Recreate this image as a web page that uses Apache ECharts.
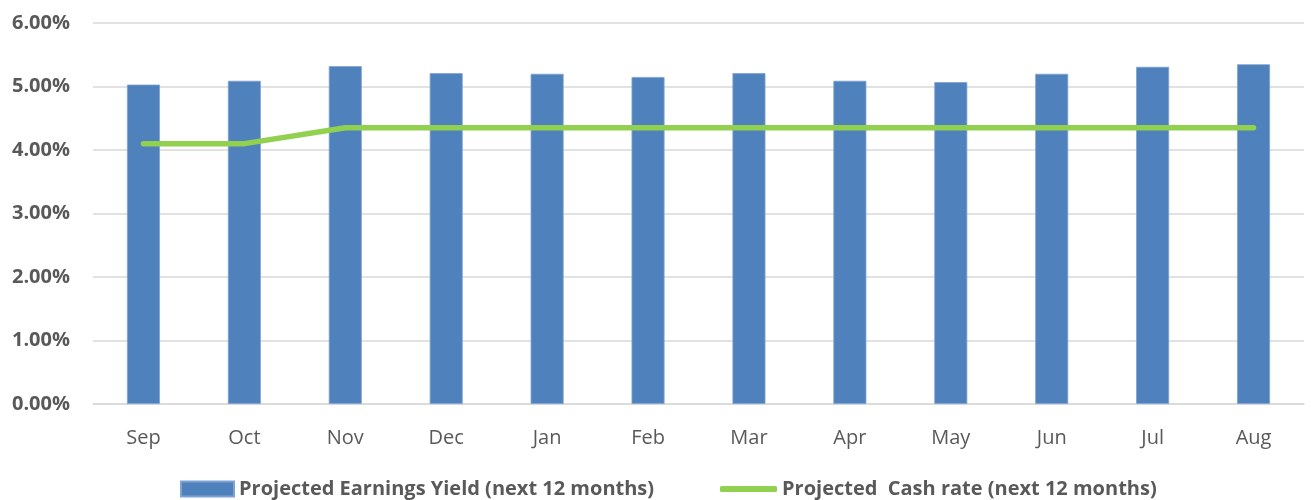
<!DOCTYPE html>
<html><head><meta charset="utf-8">
<script src="https://cdn.jsdelivr.net/npm/echarts@6/dist/echarts.min.js"></script>
<style>html,body{margin:0;padding:0;background:#fff}#c{width:1311px;height:500px}</style>
</head><body><div id="c"></div>
<script>
const categories = ['Sep','Oct','Nov','Dec','Jan','Feb','Mar','Apr','May','Jun','Jul','Aug'];
const earningsYield = [5.03, 5.09, 5.32, 5.21, 5.20, 5.15, 5.21, 5.09, 5.07, 5.20, 5.31, 5.35];
const cashRate = [4.10, 4.10, 4.35, 4.35, 4.35, 4.35, 4.35, 4.35, 4.35, 4.35, 4.35, 4.35];
const barName = 'Projected Earnings Yield (next 12 months)';
const lineName = 'Projected  Cash rate (next 12 months)';
const font = '"Open Sans", sans-serif';
const chart = echarts.init(document.getElementById('c'));
chart.setOption({
  animation: false,
  textStyle: {fontFamily: font},
  grid: {left: 93, right: 7, top: 23, bottom: 96},
  legend: [
    {data: [barName], left: 180, top: 479, padding: 0, itemWidth: 53, itemHeight: 15, icon: 'rect', itemGap: 0,
     textStyle: {fontFamily: font, fontSize: 20, fontWeight: 'bold', color: '#595959'}},
    {data: [{name: lineName, icon: 'roundRect'}], left: 720, top: 479, padding: 0, itemWidth: 57, itemHeight: 6, itemGap: 0,
     textStyle: {fontFamily: font, fontSize: 20, fontWeight: 'bold', color: '#595959'}}
  ],
  xAxis: {
    type: 'category', data: categories,
    axisLine: {show: true, lineStyle: {color: '#d9d9d9', width: 1.5}},
    axisTick: {show: false},
    axisLabel: {fontFamily: font, fontSize: 20, color: '#595959', margin: 24}
  },
  yAxis: {
    type: 'value', min: 0, max: 6, interval: 1,
    axisLine: {show: false}, axisTick: {show: false},
    splitLine: {lineStyle: {color: '#d9d9d9', width: 1.5}},
    axisLabel: {fontFamily: font, fontSize: 20, fontWeight: 'bold', color: '#595959', margin: 23,
      formatter: v => v.toFixed(2) + '%'}
  },
  series: [
    {name: barName, type: 'bar', data: earningsYield, barWidth: 33,
     itemStyle: {color: '#4F81BD', borderColor: '#7FA3D1', borderWidth: 0.8}},
    {name: lineName, type: 'line', data: cashRate, symbol: 'none', showSymbol: false,
     lineStyle: {color: '#92D050', width: 5.5, cap: 'round', join: 'round'},
     itemStyle: {color: '#92D050'}}
  ]
});
</script></body></html>
